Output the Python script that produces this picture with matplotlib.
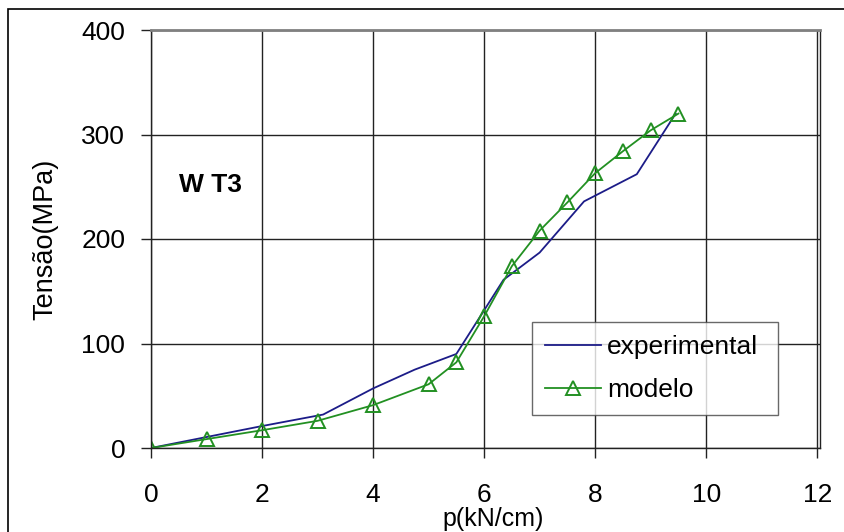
import matplotlib
matplotlib.use("Agg")
import matplotlib.pyplot as plt
from matplotlib.patches import Rectangle

plt.rcParams['font.family'] = ['Liberation Sans', 'DejaVu Sans']

# experimental series
exp_p = [0, 1, 2, 3.1, 4.0, 4.75, 5.5, 6.35, 7.0, 7.8, 8.75, 9.45]
exp_s = [0, 10.5, 21, 32, 57, 75, 90, 161, 187, 236, 262, 320]
# modelo series
mod_p = [0, 1, 2, 3, 4, 5, 5.5, 6, 6.5, 7, 7.5, 8, 8.5, 9, 9.5]
mod_s = [0, 8.5, 17, 26, 41, 61, 82, 126, 174, 208, 235, 263, 284, 304, 320]

x_ticks = [0, 2, 4, 6, 8, 10, 12]
y_ticks = [0, 100, 200, 300, 400]

fig = plt.figure(figsize=(8.45, 5.32), dpi=100)
# outer frame
fig.patches.append(Rectangle((8/845, -0.1), 1.2, (532-9)/532 + 0.1,
                             transform=fig.transFigure, fill=False,
                             edgecolor='black', lw=1.2, zorder=0))
ax = fig.add_axes([151/845, (532-448)/532, (820-151)/845, (448-30)/532])

ax.plot(exp_p, exp_s, color='#1c1c88', lw=1.3, label='experimental')
ax.plot(mod_p, mod_s, color='#229022', lw=1.3, marker='^', markersize=10,
        markerfacecolor='none', markeredgecolor='#229022', markeredgewidth=1.4,
        label='modelo')

ax.set_xlim(0, 12.05)
ax.set_ylim(0, 400)
ax.set_xticks(x_ticks)
ax.set_yticks(y_ticks)
ax.grid(True, color='#222222', lw=1.0)
ax.set_axisbelow(True)
for side in ['left', 'right', 'bottom']:
    ax.spines[side].set_color('#222222')
    ax.spines[side].set_linewidth(1.0)
ax.spines['top'].set_color('#808080')
ax.spines['top'].set_linewidth(2.0)

ax.tick_params(axis='x', direction='out', length=7.5, width=1, pad=18, labelsize=19, color='#222222')
ax.tick_params(axis='y', direction='out', length=7.5, width=1, pad=11, labelsize=19, color='#222222')

ax.set_xlabel('p(kN/cm)', fontsize=18)
ax.xaxis.set_label_coords((493-151)/669, (448-507)/418)
ax.set_ylabel('Tensão(MPa)', fontsize=19.5)
ax.yaxis.set_label_coords((58-151)/669, 0.5)

ax.text(0.5, 252, 'W T3', fontsize=19, fontweight='bold', va='center', ha='left')

leg = ax.legend(loc='lower left', bbox_to_anchor=((532-151)/669, (448-415)/418, (778-532)/669, (415-324)/418),
                mode='expand', fontsize=19, frameon=True, fancybox=False,
                edgecolor='#444444', handlelength=2.1, handletextpad=0.25,
                borderaxespad=0, labelspacing=0.7, borderpad=0.5)
leg.get_frame().set_linewidth(1.0)

fig.savefig('out.png', dpi=100)
